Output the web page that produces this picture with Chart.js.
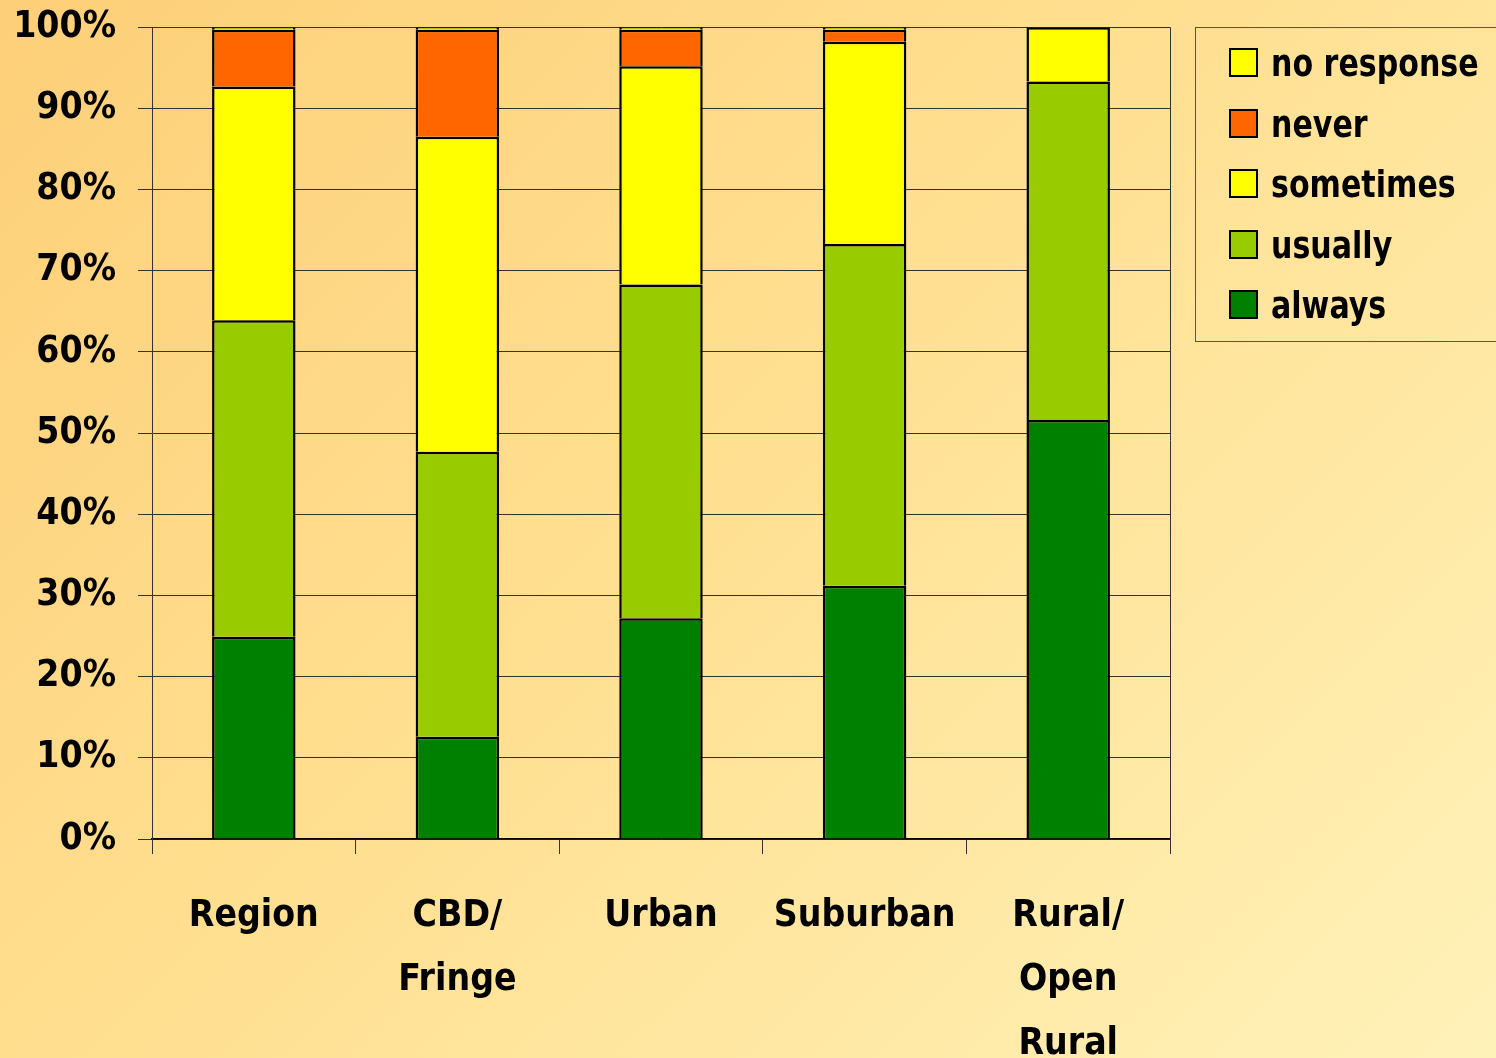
<!DOCTYPE html>
<html lang="en">
<head>
    <meta charset="UTF-8">
    <title>Frequency by area type</title>
    <script src="https://cdn.jsdelivr.net/npm/chart.js"></script>
    <style>
        html, body {
            margin: 0;
            padding: 0;
            overflow: hidden;
        }
        #wrap {
            position: relative;
            width: 1496px;
            height: 1058px;
            overflow: hidden;
            background: linear-gradient(135deg, #fdcf78 0%, #ffdf90 45%, #fff2b9 100%);
            font-family: "DejaVu Sans Condensed", sans-serif;
            font-weight: bold;
        }
        /* canvas pulled up so the plot top sits at 27px */
        #myChart {
            position: absolute;
            left: 0;
            top: -17px;
        }
        #legend {
            position: absolute;
            left: 1195px;
            top: 27px;
            width: 320px;
            height: 315px;
            border: 1px solid #555;
            box-sizing: border-box;
        }
        .item {
            position: absolute;
            left: 33px;
            height: 40px;
            line-height: 40px;
            font-size: 38px;
            color: #000;
            white-space: nowrap;
        }
        .item span {
            display: inline-block;
            width: 25px;
            height: 25px;
            border: 2px solid #000;
            vertical-align: middle;
            position: relative;
            top: -3px;
        }
        .item b {
            display: inline-block;
            margin-left: 13px;
            transform: scaleX(0.88);
            transform-origin: left center;
        }
    </style>
</head>
<body>

<div id="wrap">
    <canvas id="myChart" width="1496" height="1075"></canvas>
    <div id="legend"></div>
</div>

<script>
    // categories and shares (percent), stacked bottom-up
    const areas = ['Region', ['CBD/', 'Fringe'], 'Urban', 'Suburban', ['Rural/', 'Open', 'Rural']];
    const always = [24.9, 12.6, 27.2, 31.2, 51.6];
    const usually = [39.0, 35.1, 41.1, 42.1, 41.7];
    const sometimes = [28.8, 38.8, 26.9, 24.9, 6.7];
    const never = [7.0, 13.2, 4.5, 1.5, 0];
    const noResponse = [0.3, 0.3, 0.3, 0.3, 0];
    const yTicks = [0, 10, 20, 30, 40, 50, 60, 70, 80, 90, 100];

    const series = [
        { label: 'always', data: always, color: '#008000' },
        { label: 'usually', data: usually, color: '#99cc00' },
        { label: 'sometimes', data: sometimes, color: '#ffff00' },
        { label: 'never', data: never, color: '#ff6600' },
        { label: 'no response', data: noResponse, color: '#ffff00' }
    ];

    const FONT = '"DejaVu Sans Condensed", sans-serif';

    // right edge of the plot frame
    const frameLine = {
        id: 'frameLine',
        afterDatasetsDraw(chart) {
            const a = chart.chartArea;
            const c = chart.ctx;
            c.save();
            c.strokeStyle = '#333';
            c.lineWidth = 1;
            c.beginPath();
            c.moveTo(Math.round(a.right) + 0.5, a.top);
            c.lineTo(Math.round(a.right) + 0.5, a.bottom + 15);
            c.stroke();
            c.restore();
        }
    };

    const ctx = document.getElementById('myChart').getContext('2d');
    const myChart = new Chart(ctx, {
        type: 'bar',
        data: {
            labels: areas,
            datasets: series.map(s => ({
                label: s.label,
                data: s.data,
                backgroundColor: s.color,
                borderColor: '#000',
                borderWidth: 2.5,
                barPercentage: 0.41,
                categoryPercentage: 1
            }))
        },
        options: {
            responsive: false,
            animation: false,
            layout: { padding: { top: 11, right: 326, left: 0, bottom: 0 } },
            plugins: {
                legend: { display: false },
                tooltip: { enabled: false }
            },
            scales: {
                x: {
                    stacked: true,
                    grid: {
                        offset: true,
                        drawOnChartArea: false,
                        drawTicks: true,
                        tickLength: 15,
                        color: '#333'
                    },
                    border: { color: '#000', width: 1.5 },
                    ticks: {
                        color: '#000',
                        padding: 30,
                        maxRotation: 0,
                        autoSkip: false,
                        font: { family: FONT, size: 37, weight: 'bold', lineHeight: 1.73 }
                    },
                    afterFit(scale) { scale.height = 219; }
                },
                y: {
                    stacked: true,
                    min: 0,
                    max: 100,
                    afterBuildTicks(scale) { scale.ticks = yTicks.map(v => ({ value: v })); },
                    grid: {
                        color: '#333',
                        lineWidth: 1,
                        tickLength: 14
                    },
                    border: { color: '#333', width: 1 },
                    ticks: {
                        color: '#000',
                        padding: 22,
                        callback: v => v + '%',
                        font: { family: FONT, size: 37, weight: 'bold' }
                    },
                    afterFit(scale) { scale.width = 152; }
                }
            }
        },
        plugins: [frameLine]
    });

    // legend, top entry is the top of the stack
    const legend = document.getElementById('legend');
    series.slice().reverse().forEach((s, i) => {
        const row = document.createElement('div');
        row.className = 'item';
        row.style.top = (15 + i * 60.5) + 'px';
        row.innerHTML = '<span style="background:' + s.color + '"></span><b>' + s.label + '</b>';
        legend.appendChild(row);
    });
</script>

</body>
</html>
